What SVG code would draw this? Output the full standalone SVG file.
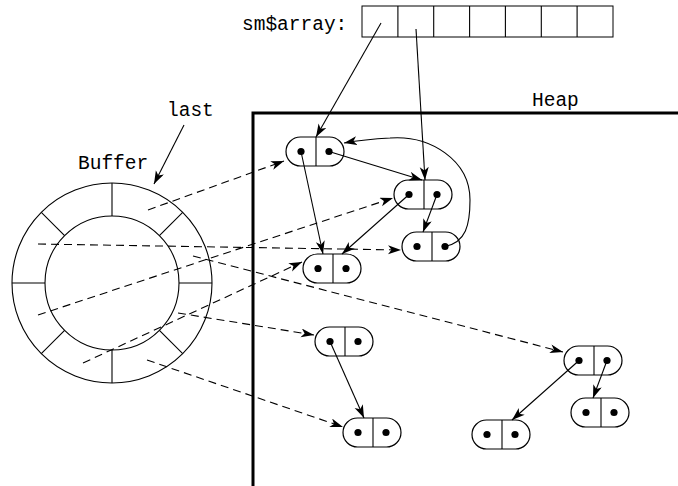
<svg xmlns="http://www.w3.org/2000/svg" xmlns:xlink="http://www.w3.org/1999/xlink" width="678" height="486" viewBox="0 0 678 486">
<style>
.t{font-family:"Liberation Mono","DejaVu Sans Mono",monospace;font-size:19.5px;fill:#000}
.ln{stroke:#000;stroke-width:1.1;fill:none}
.dash{stroke:#000;stroke-width:1.1;fill:none;stroke-dasharray:8,5}
.nd{fill:#fff;stroke:#000;stroke-width:1.2}
</style>
<defs>
<marker id="ah" markerUnits="userSpaceOnUse" markerWidth="14" markerHeight="10" refX="13" refY="4.5" orient="auto">
<path d="M0,0 L13,4.5 L0,9 L3.5,4.5 z" fill="#000"/>
</marker>
<g id="cell">
<rect class="nd" x="0" y="0" width="58" height="29" rx="14.5" ry="14.5"/>
<line class="ln" x1="30" y1="0" x2="30" y2="29"/>
<circle cx="15" cy="14.5" r="3.6" fill="#000"/>
<circle cx="43" cy="14.5" r="3.6" fill="#000"/>
</g>
</defs>
<rect width="678" height="486" fill="#fff"/>
<g id="heap">
<path d="M253,486 L253,113 L678,113" fill="none" stroke="#000" stroke-width="3"/>
<text class="t" x="532" y="106">Heap</text>
</g>
<g id="array">
<text class="t" x="242" y="30">sm$array:</text>
<rect x="362" y="6" width="251" height="31" fill="none" stroke="#000" stroke-width="1"/>
<line class="ln" x1="397.9" y1="6" x2="397.9" y2="37"/>
<line class="ln" x1="433.7" y1="6" x2="433.7" y2="37"/>
<line class="ln" x1="469.6" y1="6" x2="469.6" y2="37"/>
<line class="ln" x1="505.4" y1="6" x2="505.4" y2="37"/>
<line class="ln" x1="541.3" y1="6" x2="541.3" y2="37"/>
<line class="ln" x1="577.1" y1="6" x2="577.1" y2="37"/>
</g>
<g id="buffer">
<circle class="ln" cx="112" cy="283" r="100"/>
<circle class="ln" cx="112" cy="283" r="67"/>
<line class="ln" x1="112" y1="216" x2="112" y2="183"/>
<line class="ln" x1="112" y1="350" x2="112" y2="383"/>
<line class="ln" x1="45" y1="283" x2="12" y2="283"/>
<line class="ln" x1="179" y1="283" x2="212" y2="283"/>
<line class="ln" x1="159.4" y1="235.6" x2="182.7" y2="212.3"/>
<line class="ln" x1="64.6" y1="235.6" x2="41.3" y2="212.3"/>
<line class="ln" x1="159.4" y1="330.4" x2="182.7" y2="353.7"/>
<line class="ln" x1="64.6" y1="330.4" x2="41.3" y2="353.7"/>
<text class="t" x="78" y="169">Buffer</text>
</g>
<g id="last">
<text class="t" x="167" y="116">last</text>
</g>
<g id="n1" transform="translate(286,137)"><use xlink:href="#cell" href="#cell"/></g>
<g id="n2" transform="translate(394,180)"><use xlink:href="#cell" href="#cell"/></g>
<g id="n3" transform="translate(402,232)"><use xlink:href="#cell" href="#cell"/></g>
<g id="n4" transform="translate(303,254)"><use xlink:href="#cell" href="#cell"/></g>
<g id="n5" transform="translate(315,327)"><use xlink:href="#cell" href="#cell"/></g>
<g id="n6" transform="translate(343,418)"><use xlink:href="#cell" href="#cell"/></g>
<g id="n7" transform="translate(564,346)"><use xlink:href="#cell" href="#cell"/></g>
<g id="n8" transform="translate(571,398)"><use xlink:href="#cell" href="#cell"/></g>
<g id="n9" transform="translate(472,420)"><use xlink:href="#cell" href="#cell"/></g>
<g id="connectors">
<line class="ln" x1="184" y1="125" x2="154" y2="184" marker-end="url(#ah)"/>
<line class="ln" x1="381" y1="23" x2="316" y2="137" marker-end="url(#ah)"/>
<line class="ln" x1="416" y1="29" x2="425" y2="180" marker-end="url(#ah)"/>
<line class="ln" x1="329" y1="151.5" x2="422" y2="180" marker-end="url(#ah)"/>
<line class="ln" x1="301" y1="151.5" x2="323" y2="254" marker-end="url(#ah)"/>
<line class="ln" x1="409" y1="194.5" x2="342" y2="254" marker-end="url(#ah)"/>
<line class="ln" x1="437" y1="194.5" x2="423" y2="232" marker-end="url(#ah)"/>
<path class="ln" d="M445,246.5 C466,242 470,225 470,200 C470,160 430,135 390,138 C370,139 355,141 344,143" marker-end="url(#ah)"/>
<line class="ln" x1="330" y1="341.5" x2="364" y2="418" marker-end="url(#ah)"/>
<line class="ln" x1="579" y1="360.5" x2="512" y2="420" marker-end="url(#ah)"/>
<line class="ln" x1="607" y1="360.5" x2="593" y2="398" marker-end="url(#ah)"/>
<line class="dash" x1="148" y1="210" x2="284" y2="161" marker-end="url(#ah)"/>
<line class="dash" x1="38" y1="244" x2="401" y2="250" marker-end="url(#ah)"/>
<line class="dash" x1="38" y1="315" x2="393" y2="198" marker-end="url(#ah)"/>
<line class="dash" x1="193" y1="256" x2="563" y2="352" marker-end="url(#ah)"/>
<line class="dash" x1="83" y1="363" x2="302" y2="262" marker-end="url(#ah)"/>
<line class="dash" x1="178" y1="313" x2="314" y2="335" marker-end="url(#ah)"/>
<line class="dash" x1="147" y1="360" x2="343" y2="427" marker-end="url(#ah)"/>
</g>
</svg>
